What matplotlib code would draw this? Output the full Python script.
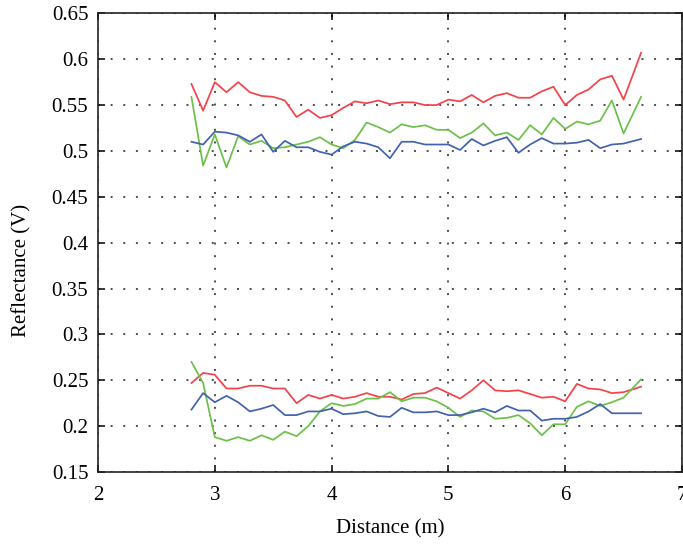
import matplotlib
matplotlib.use('Agg')
import matplotlib.pyplot as plt
from matplotlib.ticker import FormatStrFormatter

# Distances (m)
distance = [2.8, 2.9, 3.0, 3.1, 3.2, 3.3, 3.4, 3.5, 3.6, 3.7,
            3.8, 3.9, 4.0, 4.1, 4.2, 4.3, 4.4, 4.5, 4.6, 4.7,
            4.8, 4.9, 5.0, 5.1, 5.2, 5.3, 5.4, 5.5, 5.6, 5.7,
            5.8, 5.9, 6.0, 6.1, 6.2, 6.3, 6.4, 6.5, 6.65]

# Upper group
red_high = [0.573, 0.544, 0.575, 0.564, 0.575, 0.564, 0.560, 0.559, 0.555, 0.537,
            0.545, 0.536, 0.539, 0.547, 0.554, 0.552, 0.555, 0.551, 0.553, 0.553,
            0.550, 0.550, 0.556, 0.554, 0.561, 0.553, 0.560, 0.563, 0.558, 0.558,
            0.565, 0.570, 0.550, 0.561, 0.567, 0.578, 0.582, 0.556, 0.607]
green_high = [0.559, 0.484, 0.518, 0.482, 0.516, 0.507, 0.511, 0.503, 0.504, 0.507,
              0.510, 0.515, 0.507, 0.503, 0.512, 0.531, 0.526, 0.520, 0.529, 0.526,
              0.528, 0.523, 0.523, 0.514, 0.520, 0.530, 0.517, 0.520, 0.512, 0.528,
              0.518, 0.536, 0.524, 0.532, 0.529, 0.533, 0.555, 0.519, 0.559]
blue_high = [0.510, 0.507, 0.521, 0.520, 0.517, 0.510, 0.518, 0.499, 0.511, 0.504,
             0.504, 0.499, 0.496, 0.505, 0.510, 0.508, 0.504, 0.492, 0.510, 0.510,
             0.507, 0.507, 0.507, 0.501, 0.513, 0.506, 0.511, 0.515, 0.498, 0.507,
             0.514, 0.508, 0.508, 0.509, 0.512, 0.503, 0.507, 0.508, 0.513]

# Lower group
red_low = [0.247, 0.258, 0.256, 0.241, 0.241, 0.244, 0.244, 0.241, 0.241, 0.225,
           0.234, 0.230, 0.234, 0.230, 0.232, 0.236, 0.232, 0.232, 0.229, 0.235,
           0.236, 0.242, 0.236, 0.230, 0.239, 0.250, 0.239, 0.238, 0.239, 0.235,
           0.231, 0.232, 0.227, 0.246, 0.241, 0.240, 0.236, 0.237, 0.243]
green_low = [0.270, 0.247, 0.188, 0.184, 0.188, 0.184, 0.190, 0.185, 0.194, 0.189,
             0.200, 0.216, 0.225, 0.222, 0.224, 0.230, 0.230, 0.237, 0.227, 0.231,
             0.231, 0.227, 0.220, 0.210, 0.217, 0.216, 0.208, 0.209, 0.212, 0.203,
             0.190, 0.202, 0.202, 0.221, 0.227, 0.222, 0.226, 0.231, 0.251]
blue_low = [0.218, 0.236, 0.226, 0.233, 0.226, 0.216, 0.219, 0.223, 0.212, 0.212,
            0.216, 0.216, 0.219, 0.213, 0.214, 0.216, 0.211, 0.210, 0.220, 0.215,
            0.215, 0.216, 0.212, 0.212, 0.215, 0.219, 0.215, 0.222, 0.217, 0.217,
            0.206, 0.208, 0.208, 0.210, 0.216, 0.224, 0.214, 0.214, 0.214]

RED = '#f5424a'
GREEN = '#6cc04a'
BLUE = '#4262b0'

plt.rcParams['font.family'] = ['Liberation Serif', 'DejaVu Serif']

fig = plt.figure(figsize=(6.83, 5.45), dpi=100)
ax = fig.add_axes([0.1435, 0.134, 0.855, 0.8415])

lw = 1.25
ax.plot(distance, red_high, color=RED, linewidth=lw)
ax.plot(distance, green_high, color=GREEN, linewidth=lw)
ax.plot(distance, blue_high, color=BLUE, linewidth=lw)
ax.plot(distance, red_low, color=RED, linewidth=lw)
ax.plot(distance, green_low, color=GREEN, linewidth=lw)
ax.plot(distance, blue_low, color=BLUE, linewidth=lw)

ax.set_xlim(2, 7)
ax.set_ylim(0.15, 0.65)
ax.set_xticks([2, 3, 4, 5, 6, 7])
ax.set_yticks([0.15, 0.2, 0.25, 0.3, 0.35, 0.4, 0.45, 0.5, 0.55, 0.6, 0.65])
ax.yaxis.set_major_formatter(FormatStrFormatter('%g'))

ax.grid(True, color='0.3', linestyle=(0, (1, 5.5)), linewidth=1.4)
ax.tick_params(direction='in', length=5, width=1.1, top=True, right=True,
               labelsize=15, colors='black', pad=7)
ax.tick_params(axis='x', pad=10)
for s in ax.spines.values():
    s.set_linewidth(1.2)
    s.set_color('#222222')

ax.set_xlabel('Distance (m)', fontsize=15, labelpad=10)
ax.set_ylabel('Reflectance (V)', fontsize=15)
ax.yaxis.set_label_coords(-0.114, 0.44)

fig.savefig('out.png', dpi=100)
